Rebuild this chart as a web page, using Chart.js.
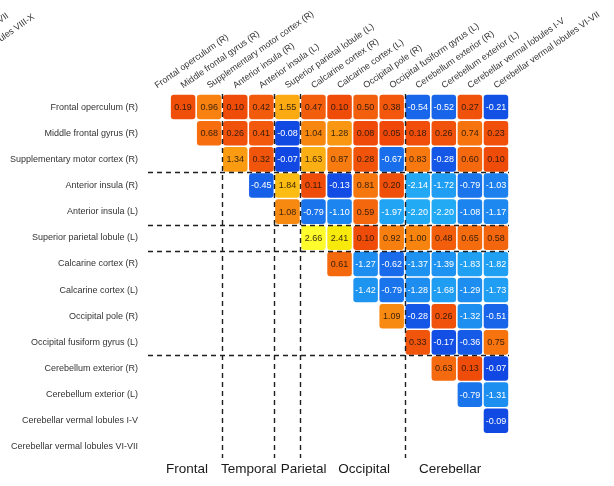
<!DOCTYPE html>
<html>
<head>
<meta charset="utf-8">
<script src="https://cdn.jsdelivr.net/npm/chart.js@4.4.1/dist/chart.umd.min.js"></script>
<style>
  html, body { margin: 0; padding: 0; background: #ffffff; }
  #wrap { width: 614px; height: 486px; }
</style>
</head>
<body>
<div id="wrap"><canvas id="c" width="614" height="486"></canvas></div>
<script>
// Brain regions (matrix rows and columns, same order)
const regions = [
  'Frontal operculum (R)',
  'Middle frontal gyrus (R)',
  'Supplementary motor cortex (R)',
  'Anterior insula (R)',
  'Anterior insula (L)',
  'Superior parietal lobule (L)',
  'Calcarine cortex (R)',
  'Calcarine cortex (L)',
  'Occipital pole (R)',
  'Occipital fusiform gyrus (L)',
  'Cerebellum exterior (R)',
  'Cerebellum exterior (L)',
  'Cerebellar vermal lobules I-V',
  'Cerebellar vermal lobules VI-VII'
];

// Lobe groups and how many regions each contains
const groupNames = ['Frontal', 'Temporal', 'Parietal', 'Occipital', 'Cerebellar'];
const groupSizes = [3, 2, 1, 4, 4];

// Upper triangle: row r holds the values for columns r+1 .. 13
const valuesByRow = [
  [0.19, 0.96, 0.10, 0.42, 1.55, 0.47, 0.10, 0.50, 0.38, -0.54, -0.52, 0.27, -0.21],
  [0.68, 0.26, 0.41, -0.08, 1.04, 1.28, 0.08, 0.05, 0.18, 0.26, 0.74, 0.23],
  [1.34, 0.32, -0.07, 1.63, 0.87, 0.28, -0.67, 0.83, -0.28, 0.60, 0.10],
  [-0.45, 1.84, 0.11, -0.13, 0.81, 0.20, -2.14, -1.72, -0.79, -1.03],
  [1.08, -0.79, -1.10, 0.59, -1.97, -2.20, -2.20, -1.08, -1.17],
  [2.66, 2.41, 0.10, 0.92, 1.00, 0.48, 0.65, 0.58],
  [0.61, -1.27, -0.62, -1.37, -1.39, -1.83, -1.82],
  [-1.42, -0.79, -1.28, -1.68, -1.29, -1.73],
  [1.09, -0.28, 0.26, -1.32, -0.51],
  [0.33, -0.17, -0.36, 0.75],
  [0.63, 0.13, -0.07],
  [-0.79, -1.31],
  [-0.09]
];

// Colour ramp: blue for negative, red -> orange -> yellow for positive
const negStops = [
  [-2.2, [34, 170, 245]],
  [-1.5, [30, 152, 242]],
  [-1.0, [28, 128, 238]],
  [-0.5, [24, 100, 234]],
  [0.0, [16, 68, 226]]
];
const posStops = [
  [0.0, [238, 70, 8]],
  [0.4, [242, 88, 12]],
  [0.7, [246, 112, 14]],
  [1.0, [248, 132, 16]],
  [1.35, [250, 156, 18]],
  [1.7, [252, 180, 18]],
  [1.9, [252, 192, 18]],
  [2.4, [248, 232, 12]],
  [2.7, [255, 255, 50]]
];
function ramp(stops, v) {
  if (v <= stops[0][0]) return stops[0][1];
  for (let i = 1; i < stops.length; i++) {
    if (v <= stops[i][0]) {
      const [a, ca] = stops[i - 1], [b, cb] = stops[i];
      const t = (v - a) / (b - a);
      return ca.map((c, k) => Math.round(c + (cb[k] - c) * t));
    }
  }
  return stops[stops.length - 1][1];
}
function fillFor(v) {
  const c = v < 0 ? ramp(negStops, v) : ramp(posStops, v);
  return `rgb(${c[0]},${c[1]},${c[2]})`;
}

// One floating bar per cell: column on the category axis, row span on the linear axis
const cells = [];
valuesByRow.forEach((row, r) => {
  row.forEach((v, k) => {
    cells.push({ x: regions[r + 1 + k], y: [r - 0.47, r + 0.47], v: v });
  });
});

const FONT = "'Liberation Sans', Arial, Helvetica, sans-serif";

const overlay = {
  id: 'overlay',
  afterDatasetsDraw(chart) {
    const ctx = chart.ctx;
    const xs = chart.scales.x, ys = chart.scales.y;
    const area = chart.chartArea;
    const meta = chart.getDatasetMeta(0);

    // cell values
    ctx.save();
    ctx.font = `9px ${FONT}`;
    ctx.textAlign = 'center';
    ctx.textBaseline = 'middle';
    meta.data.forEach((el, i) => {
      const v = cells[i].v;
      ctx.fillStyle = v < 0 ? '#ffffff' : 'rgba(35,22,10,0.9)';
      ctx.fillText(v.toFixed(2), el.x, (el.y + el.base) / 2 + 0.5);
    });
    ctx.restore();

    // dashed separators between lobe groups
    const bounds = [];
    let acc = 0;
    groupSizes.slice(0, -1).forEach(n => { acc += n; bounds.push(acc - 0.5); });
    ctx.save();
    ctx.strokeStyle = '#1e1e1e';
    ctx.lineWidth = 1.4;
    ctx.setLineDash([5, 4]);
    bounds.forEach(b => {
      const py = Math.round(ys.getPixelForValue(b)) + 0.5;
      ctx.beginPath();
      ctx.moveTo(area.left + 4, py);
      ctx.lineTo(area.right, py);
      ctx.stroke();
      const px = Math.round(xs.getPixelForValue(b)) + 0.5;
      ctx.beginPath();
      ctx.moveTo(px, area.top);
      ctx.lineTo(px, area.bottom - 2);
      ctx.stroke();
    });
    ctx.restore();

    // lobe names under the matrix
    const groupLabelAt = [1.15, 3.52, 5.62, 7.94, 11.24];
    ctx.save();
    ctx.font = `13.5px ${FONT}`;
    ctx.fillStyle = '#1a1a1a';
    ctx.textAlign = 'center';
    ctx.textBaseline = 'middle';
    groupNames.forEach((g, i) => {
      ctx.fillText(g, xs.getPixelForValue(groupLabelAt[i]), area.bottom + 9);
    });
    ctx.restore();

    // trailing column titles running off the top-left corner
    const tails = ['Cerebellar vermal lobules VI-VII', 'Cerebellar vermal lobules VIII-X'];
    const tailEnds = [[9, 17], [35, 18]];
    ctx.save();
    ctx.font = `9px ${FONT}`;
    ctx.fillStyle = '#333333';
    ctx.textAlign = 'right';
    ctx.textBaseline = 'alphabetic';
    tails.forEach((t, i) => {
      ctx.save();
      ctx.translate(tailEnds[i][0], tailEnds[i][1]);
      ctx.rotate(-35 * Math.PI / 180);
      ctx.fillText(t, 0, 0);
      ctx.restore();
    });
    ctx.restore();
  }
};

new Chart(document.getElementById('c'), {
  type: 'bar',
  data: {
    labels: regions,
    datasets: [{
      data: cells,
      backgroundColor: c => fillFor(c.raw ? c.raw.v : 0),
      borderWidth: 0,
      borderRadius: 3,
      borderSkipped: false,
      barPercentage: 0.94,
      categoryPercentage: 1,
      xAxisID: 'x',
      yAxisID: 'y'
    }]
  },
  options: {
    responsive: false,
    animation: false,
    devicePixelRatio: 1,
    layout: { padding: { left: 0, right: 105, top: 0, bottom: 26 } },
    plugins: { legend: { display: false }, tooltip: { enabled: false } },
    scales: {
      x: {
        type: 'category',
        position: 'top',
        offset: true,
        grid: { display: false, drawTicks: false },
        border: { display: false },
        ticks: {
          autoSkip: false,
          minRotation: 35,
          maxRotation: 35,
          padding: 3,
          labelOffset: 5,
          color: '#333333',
          font: { family: FONT, size: 9 }
        },
        afterFit(s) { s.height = 94; s.paddingLeft = 0; s.paddingRight = 0; }
      },
      y: {
        type: 'linear',
        display: false,
        reverse: true,
        min: -0.5,
        max: 13.5
      },
      rows: {
        type: 'category',
        axis: 'y',
        labels: regions,
        position: 'left',
        offset: true,
        grid: { display: false, drawTicks: false },
        border: { display: false },
        ticks: {
          autoSkip: false,
          padding: 6,
          color: '#333333',
          font: { family: FONT, size: 9 }
        },
        afterFit(s) { s.width = 144; s.paddingTop = 0; s.paddingBottom = 0; }
      }
    }
  },
  plugins: [overlay]
});
</script>
</body>
</html>
